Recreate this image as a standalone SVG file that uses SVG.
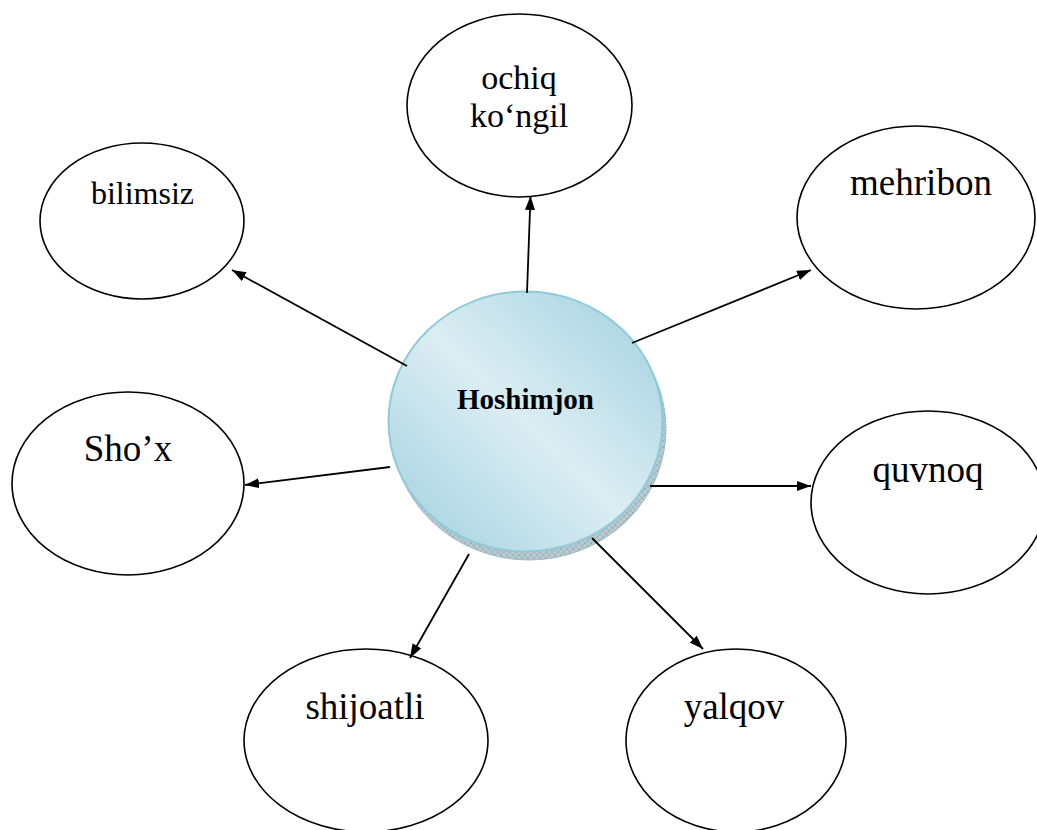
<svg xmlns="http://www.w3.org/2000/svg" width="1037" height="830" viewBox="0 0 1037 830">
<style>
.node{fill:#fff;stroke:#000;stroke-width:1.6}
.lbl{font-family:"Liberation Serif","Times New Roman",serif;font-size:37px;fill:#000;text-anchor:middle}
.conn{stroke:#000;stroke-width:1.8;fill:none;marker-end:url(#arr)}
</style>
<defs>
<marker id="arr" viewBox="0 0 14 10" refX="14" refY="5" markerWidth="14" markerHeight="10" markerUnits="userSpaceOnUse" orient="auto">
<path d="M0,0 L14,5 L0,10 Z" fill="#000"/>
</marker>
<linearGradient id="g" x1="1" y1="0" x2="0" y2="1">
<stop offset="0" stop-color="#9fd0de"/>
<stop offset="0.5" stop-color="#dcedf3"/>
<stop offset="1" stop-color="#9fd0de"/>
</linearGradient>
<pattern id="hatch" width="6" height="6" patternUnits="userSpaceOnUse">
<rect width="6" height="6" fill="#b9cbd0"/>
<path d="M0,0 L6,6 M6,0 L0,6" stroke="#8aa4ac" stroke-width="0.6"/>
</pattern>
</defs>
<g id="center">
<ellipse cx="529" cy="429" rx="137" ry="131" fill="url(#hatch)" stroke="#9fbcc4" stroke-width="1"/>
<ellipse cx="525.5" cy="421.5" rx="137" ry="130" fill="url(#g)" stroke="#8fcad9" stroke-width="2"/>
<text x="525.5" y="409" font-family="'Liberation Serif','Times New Roman',serif" font-size="29" font-weight="bold" text-anchor="middle">Hoshimjon</text>
</g>
<g id="ochiq">
<ellipse class="node" cx="519.5" cy="105.5" rx="112.5" ry="91.5"/>
<text class="lbl" x="519" y="89" style="font-size:34px">ochiq</text>
<text class="lbl" x="519" y="127" style="font-size:34px">ko‘ngil</text>
</g>
<g id="bilimsiz">
<ellipse class="node" cx="142" cy="221" rx="102" ry="78"/>
<text class="lbl" x="142.5" y="204" style="font-size:32px">bilimsiz</text>
</g>
<g id="mehribon">
<ellipse class="node" cx="916" cy="217.5" rx="119" ry="91.5"/>
<text class="lbl" x="921" y="195">mehribon</text>
</g>
<g id="shox">
<ellipse class="node" cx="128" cy="483.5" rx="116" ry="91.5"/>
<text class="lbl" x="128" y="461">Sho’x</text>
</g>
<g id="quvnoq">
<ellipse class="node" cx="928" cy="502.5" rx="117" ry="91.5"/>
<text class="lbl" x="928" y="482">quvnoq</text>
</g>
<g id="shijoatli">
<ellipse class="node" cx="366" cy="740.5" rx="122" ry="91.5"/>
<text class="lbl" x="365" y="719">shijoatli</text>
</g>
<g id="yalqov">
<ellipse class="node" cx="736" cy="740.5" rx="110" ry="91.5"/>
<text class="lbl" x="734" y="719">yalqov</text>
</g>
<g id="connectors">
<line class="conn" x1="527" y1="293" x2="530.5" y2="196"/>
<line class="conn" x1="407" y1="366" x2="232" y2="270"/>
<line class="conn" x1="632" y1="343" x2="811" y2="270"/>
<line class="conn" x1="390" y1="467" x2="245" y2="485"/>
<line class="conn" x1="650" y1="486" x2="811" y2="486"/>
<line class="conn" x1="469" y1="554" x2="410" y2="658"/>
<line class="conn" x1="592" y1="538" x2="703" y2="649"/>
</g>
</svg>
